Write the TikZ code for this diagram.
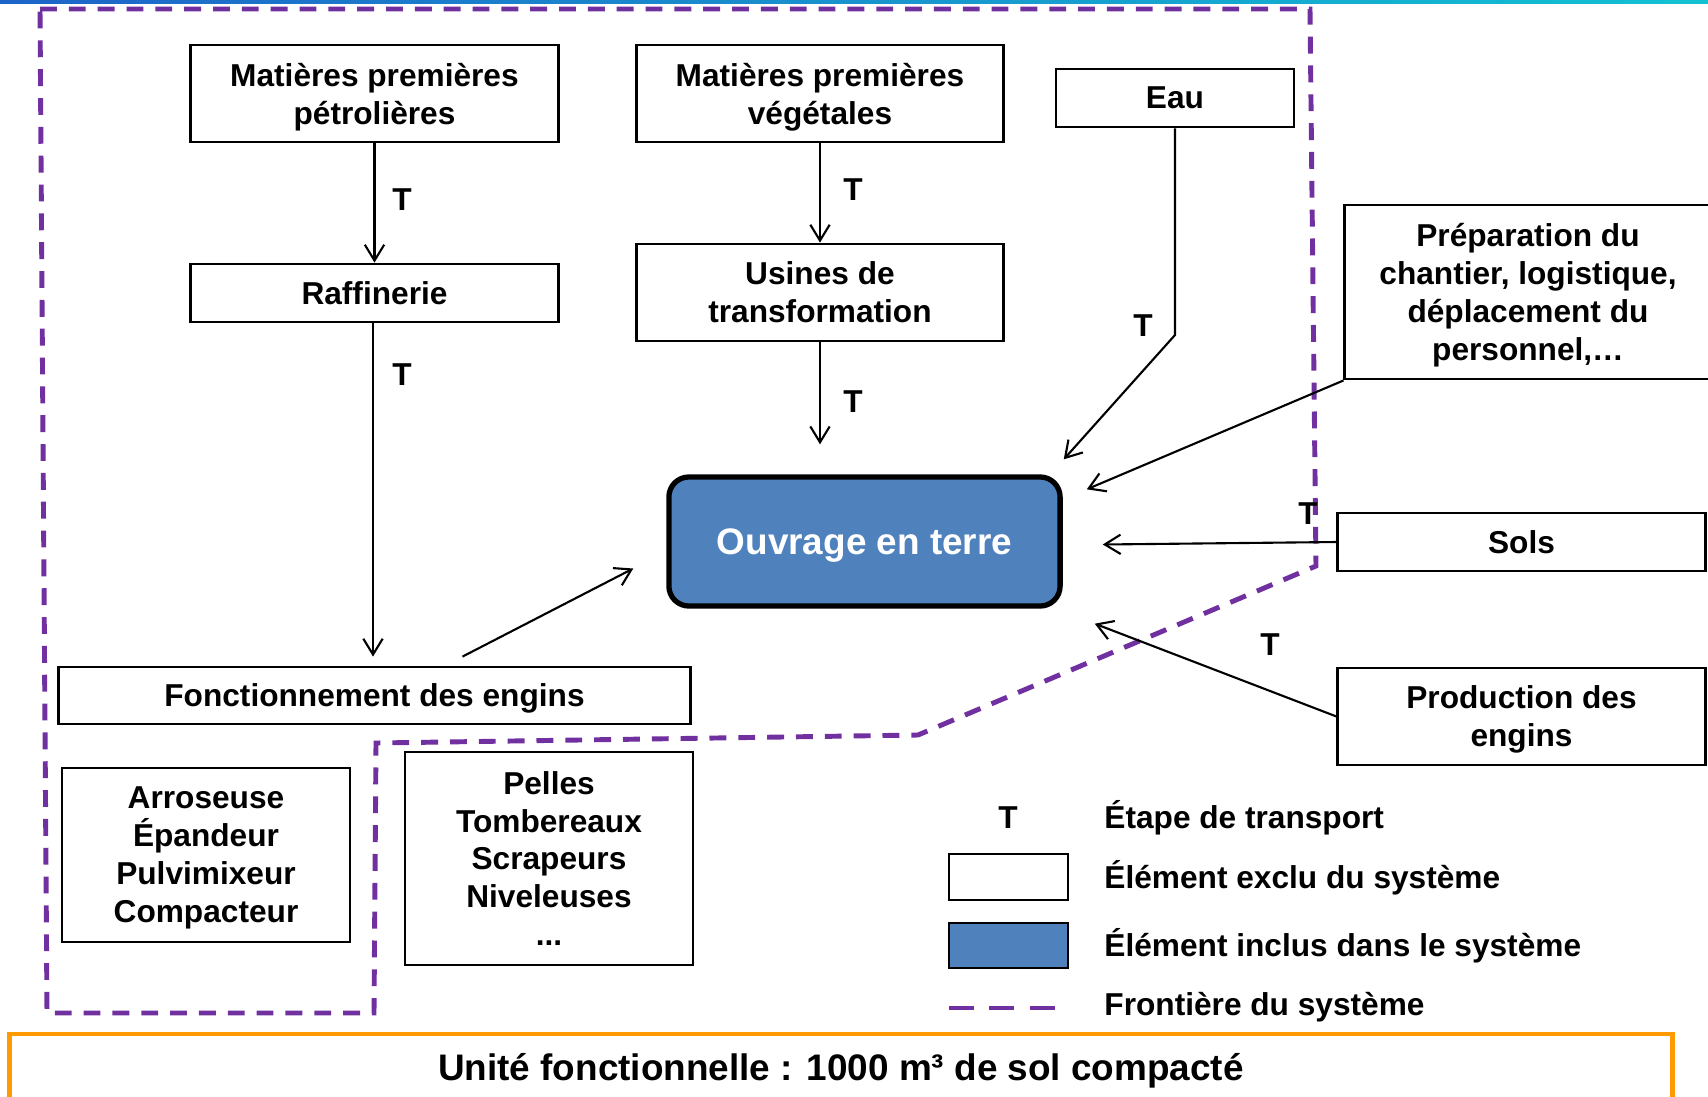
\documentclass[tikz,border=0pt]{standalone}
\usepackage{fontspec}
\setmainfont{Liberation Sans}
\usetikzlibrary{arrows.meta, positioning, calc}
\definecolor{BleuSysteme}{HTML}{4F81BD}
\definecolor{VioletFrontiere}{HTML}{7030A0}
\definecolor{OrangeUF}{HTML}{FF9A00}
\definecolor{BandeGauche}{HTML}{1E64C8}
\definecolor{BandeMilieu}{HTML}{9FA0F0}
\definecolor{BandeDroite}{HTML}{12C2D2}
\tikzset{
  boite/.style={draw, line width=0.8pt, fill=white, align=center, inner sep=2pt, text depth=0pt,
                font=\fontsize{9}{10.8}\selectfont\bfseries},
  fleche/.style={line width=0.6pt, -{Straight Barb[length=4.5pt,width=5.5pt]}},
  transp/.style={font=\fontsize{9}{10.8}\selectfont\bfseries},
  legende/.style={anchor=west, font=\fontsize{9}{10.8}\selectfont\bfseries},
  frontiere/.style={draw=VioletFrontiere, line width=1.4pt, dash pattern=on 4.8pt off 3.4pt},
}

\begin{document}
\begin{tikzpicture}[x=0.01cm, y=-0.01cm]
    \useasboundingbox (0,0) rectangle (1708,1096);
    \shade[left color=BandeGauche, middle color=BandeMilieu, right color=BandeDroite]
        (0,0) rectangle (1708,3);

    % frontiere du systeme
    \draw[frontiere] (40,9) -- (1310,9) -- (1316,566) -- (918,735) -- (376,743)
        -- (374,1013) -- (47,1013) -- cycle;

    % boites
    \node[boite, minimum width=3.67cm, minimum height=0.97cm] (petrole) at (374.5,93.5)
        {Matières premières\\pétrolières};
    \node[boite, minimum width=3.66cm, minimum height=0.97cm] (vegetal) at (820,93.5)
        {Matières premières\\végétales};
    \node[boite, minimum width=2.38cm, minimum height=0.58cm] (eau) at (1175,98) {Eau};
    \node[boite, minimum width=3.67cm, minimum height=0.58cm] (raffinerie) at (374.5,293)
        {Raffinerie};
    \node[boite, minimum width=3.66cm, minimum height=0.97cm] (usines) at (820,292.5)
        {Usines de\\transformation};
    \node[boite, minimum width=3.66cm, minimum height=1.74cm] (chantier) at (1528,292)
        {Préparation du\\chantier, logistique,\\déplacement du\\personnel,…};
    \node[draw=black, line width=1.5pt, fill=BleuSysteme, rounded corners=0.2cm,
          minimum width=3.91cm, minimum height=1.29cm, text=white, text depth=0pt,
          font=\fontsize{10.5}{12.6}\selectfont\bfseries] (ouvrage) at (864.5,541.5)
        {Ouvrage en terre};
    \node[boite, minimum width=3.67cm, minimum height=0.58cm] (sols) at (1521.5,542) {Sols};
    \node[boite, minimum width=3.67cm, minimum height=0.97cm] (production) at (1521.5,716.5)
        {Production des\\engins};
    \node[boite, minimum width=6.31cm, minimum height=0.57cm] (engins) at (374.5,695.5)
        {Fonctionnement des engins};
    \node[boite, minimum width=2.88cm, minimum height=1.74cm] (arroseuse) at (206,855)
        {Arroseuse\\Épandeur\\Pulvimixeur\\Compacteur};
    \node[boite, minimum width=2.88cm, minimum height=2.13cm] (pelles) at (549,858.5)
        {Pelles\\Tombereaux\\Scrapeurs\\Niveleuses\\...};

    % fleches
    \coordinate (coudeEau) at (eau.south |- 0,335);
    \coordinate (pointeEau) at ([shift={(1,-15)}]ouvrage.north east);
    \coordinate (pointeChantier) at ([shift={(24,15)}]ouvrage.north east);
    \coordinate (pointeSols) at ([shift={(40,3)}]ouvrage.east);
    \coordinate (pointeProd) at ([shift={(32,15)}]ouvrage.south east);
    \coordinate (departEngins) at ([shift={(88,-9)}]engins.north);
    \coordinate (pointeEngins) at ([shift={(-33,27)}]ouvrage.west);

    \draw[fleche] (petrole) -- (raffinerie);
    \draw[fleche, shorten >=0.09cm] (raffinerie.south -| 373,0) -- (engins.north -| 373,0);
    \draw[fleche] (vegetal) -- (usines);
    \draw[fleche, shorten >=0.3cm] (usines.south) -- (usines.south |- ouvrage.north);
    \draw[fleche] (eau.south) -- (coudeEau) -- (pointeEau);
    \draw[fleche] (chantier.south west) -- (pointeChantier);
    \draw[fleche] (sols.west) -- (pointeSols);
    \draw[fleche] (production.west) -- (pointeProd);
    \draw[fleche] (departEngins) -- (pointeEngins);

    % etapes de transport
    \node[transp] (t1) at (402,200) {T};
    \node[transp] (t2) at (402,375) {T};
    \node[transp] (t3) at (853,190) {T};
    \node[transp] (t4) at (853,402) {T};
    \node[transp] (t5) at (1143,326) {T};
    \node[transp] (t6) at (1308,514) {T};
    \node[transp] (t7) at (1270,645) {T};

    % legende
    \node[transp] (legT) at (1008,818) {T};
    \node[draw, line width=0.8pt, fill=white, minimum width=1.19cm, minimum height=0.46cm]
        (legExclu) at (1008.5,877) {};
    \node[draw, line width=0.8pt, fill=BleuSysteme, minimum width=1.19cm, minimum height=0.45cm]
        (legInclus) at (1008.5,945.5) {};
    \coordinate (legA) at (949,1008);
    \coordinate (legB) at (1060,1008);
    \draw[frontiere, dash pattern=on 7pt off 4.5pt] (legA) -- (legB);
    \node[legende] (txtT) at (1092,818) {Étape de transport};
    \node[legende] (txtExclu) at (1092,878) {Élément exclu du système};
    \node[legende] (txtInclus) at (1092,946) {Élément inclus dans le système};
    \node[legende] (txtFront) at (1092,1007) {Frontière du système};

    % unite fonctionnelle
    \node[draw=OrangeUF, line width=1.2pt, minimum width=16.62cm, minimum height=0.66cm,
          text depth=0pt, font=\fontsize{10.5}{12.6}\selectfont\bfseries] (uf) at (841,1067)
        {Unité fonctionnelle : 1000 m³ de sol compacté};
\end{tikzpicture}
\end{document}
